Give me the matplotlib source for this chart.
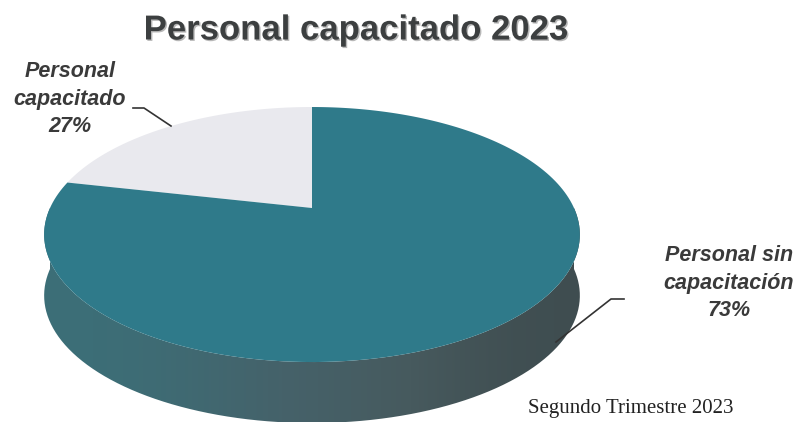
import numpy as np
import matplotlib
matplotlib.use('Agg')
import matplotlib.pyplot as plt
import matplotlib.patheffects as pe
from matplotlib.colors import LinearSegmentedColormap
from matplotlib.patches import PathPatch
from matplotlib.path import Path

titulo = 'Personal capacitado 2023'
nota = 'Segundo Trimestre 2023'
etiquetas = ['Personal\ncapacitado\n27%', 'Personal sin\ncapacitación\n73%']
# share of the ellipse each slice takes as drawn (the printed 27 % looks smaller in the scan)
porcion = [21.5, 78.5]
colores = ['#e9e9ee', '#2f7a8a']

fuente = 'Liberation Sans'

fig = plt.figure(figsize=(7.96, 4.22), dpi=100)
ax = fig.add_axes([0, 0, 1, 1])
ax.set_xlim(0, 796)
ax.set_ylim(422, 0)
ax.axis('off')

cx, cy = 312, 208
a, b, p = 262, 122, 0.208
prof = 61


# circle to screen, with perspective so the apex sits above the ellipse centre
def proyectar(t):
    x, y = np.cos(t), np.sin(t)
    w = 1 + p * y
    return cx + a * x / w, cy - b * y / w


# side of the pie, only the front half of the rim
t = np.radians(np.linspace(180, 360, 200))
xs, ys = proyectar(t)
lado_x = np.concatenate([xs, xs[::-1]])
lado_y = np.concatenate([ys, ys[::-1] + prof])
lado = PathPatch(Path(np.column_stack([lado_x, lado_y])), fc='none', ec='none')
ax.add_patch(lado)
mapa = LinearSegmentedColormap.from_list('lado', ['#3c6f78', '#45626a', '#475a5e', '#3f4d50'])
grad = ax.imshow(np.array([[0.0, 0.25, 0.55, 1.0]]), extent=(44, 581, 422, 200),
                 cmap=mapa, aspect='auto', interpolation='bicubic', zorder=1)
grad.set_clip_path(lado)
ax.set_xlim(0, 796)
ax.set_ylim(422, 0)

# top face
inicio = 90
for val, col in zip(porcion, colores):
    fin = inicio + val * 3.6
    t = np.radians(np.linspace(inicio, fin, 200))
    xs, ys = proyectar(t)
    ax.fill(np.r_[cx, xs], np.r_[cy, ys], color=col, lw=0, zorder=2)
    inicio = fin

# title and labels
ax.text(356, 30, titulo, family=fuente, weight='bold', fontsize=25,
        color='#3c3f40', ha='center', va='center',
        path_effects=[pe.withSimplePatchShadow(offset=(1, -1), shadow_rgbFace='#999999', alpha=0.7)])
ax.text(70, 99, etiquetas[0], family=fuente, style='italic', weight='bold',
        fontsize=15.5, color='#3a3a3a', ha='center', va='center', linespacing=1.4)
ax.text(729, 283, etiquetas[1], family=fuente, style='italic', weight='bold',
        fontsize=15.5, color='#3a3a3a', ha='center', va='center', linespacing=1.4)
ax.text(631, 408, nota, family='Liberation Serif', fontsize=15, color='#222222',
        ha='center', va='center')

# leader lines
ax.plot([133, 144, 171], [108, 108, 126], color='#333333', lw=1.2, zorder=3)
ax.plot([624, 611, 556], [299, 299, 342], color='#333333', lw=1.2, zorder=3)

fig.savefig('out.png', dpi=100)
